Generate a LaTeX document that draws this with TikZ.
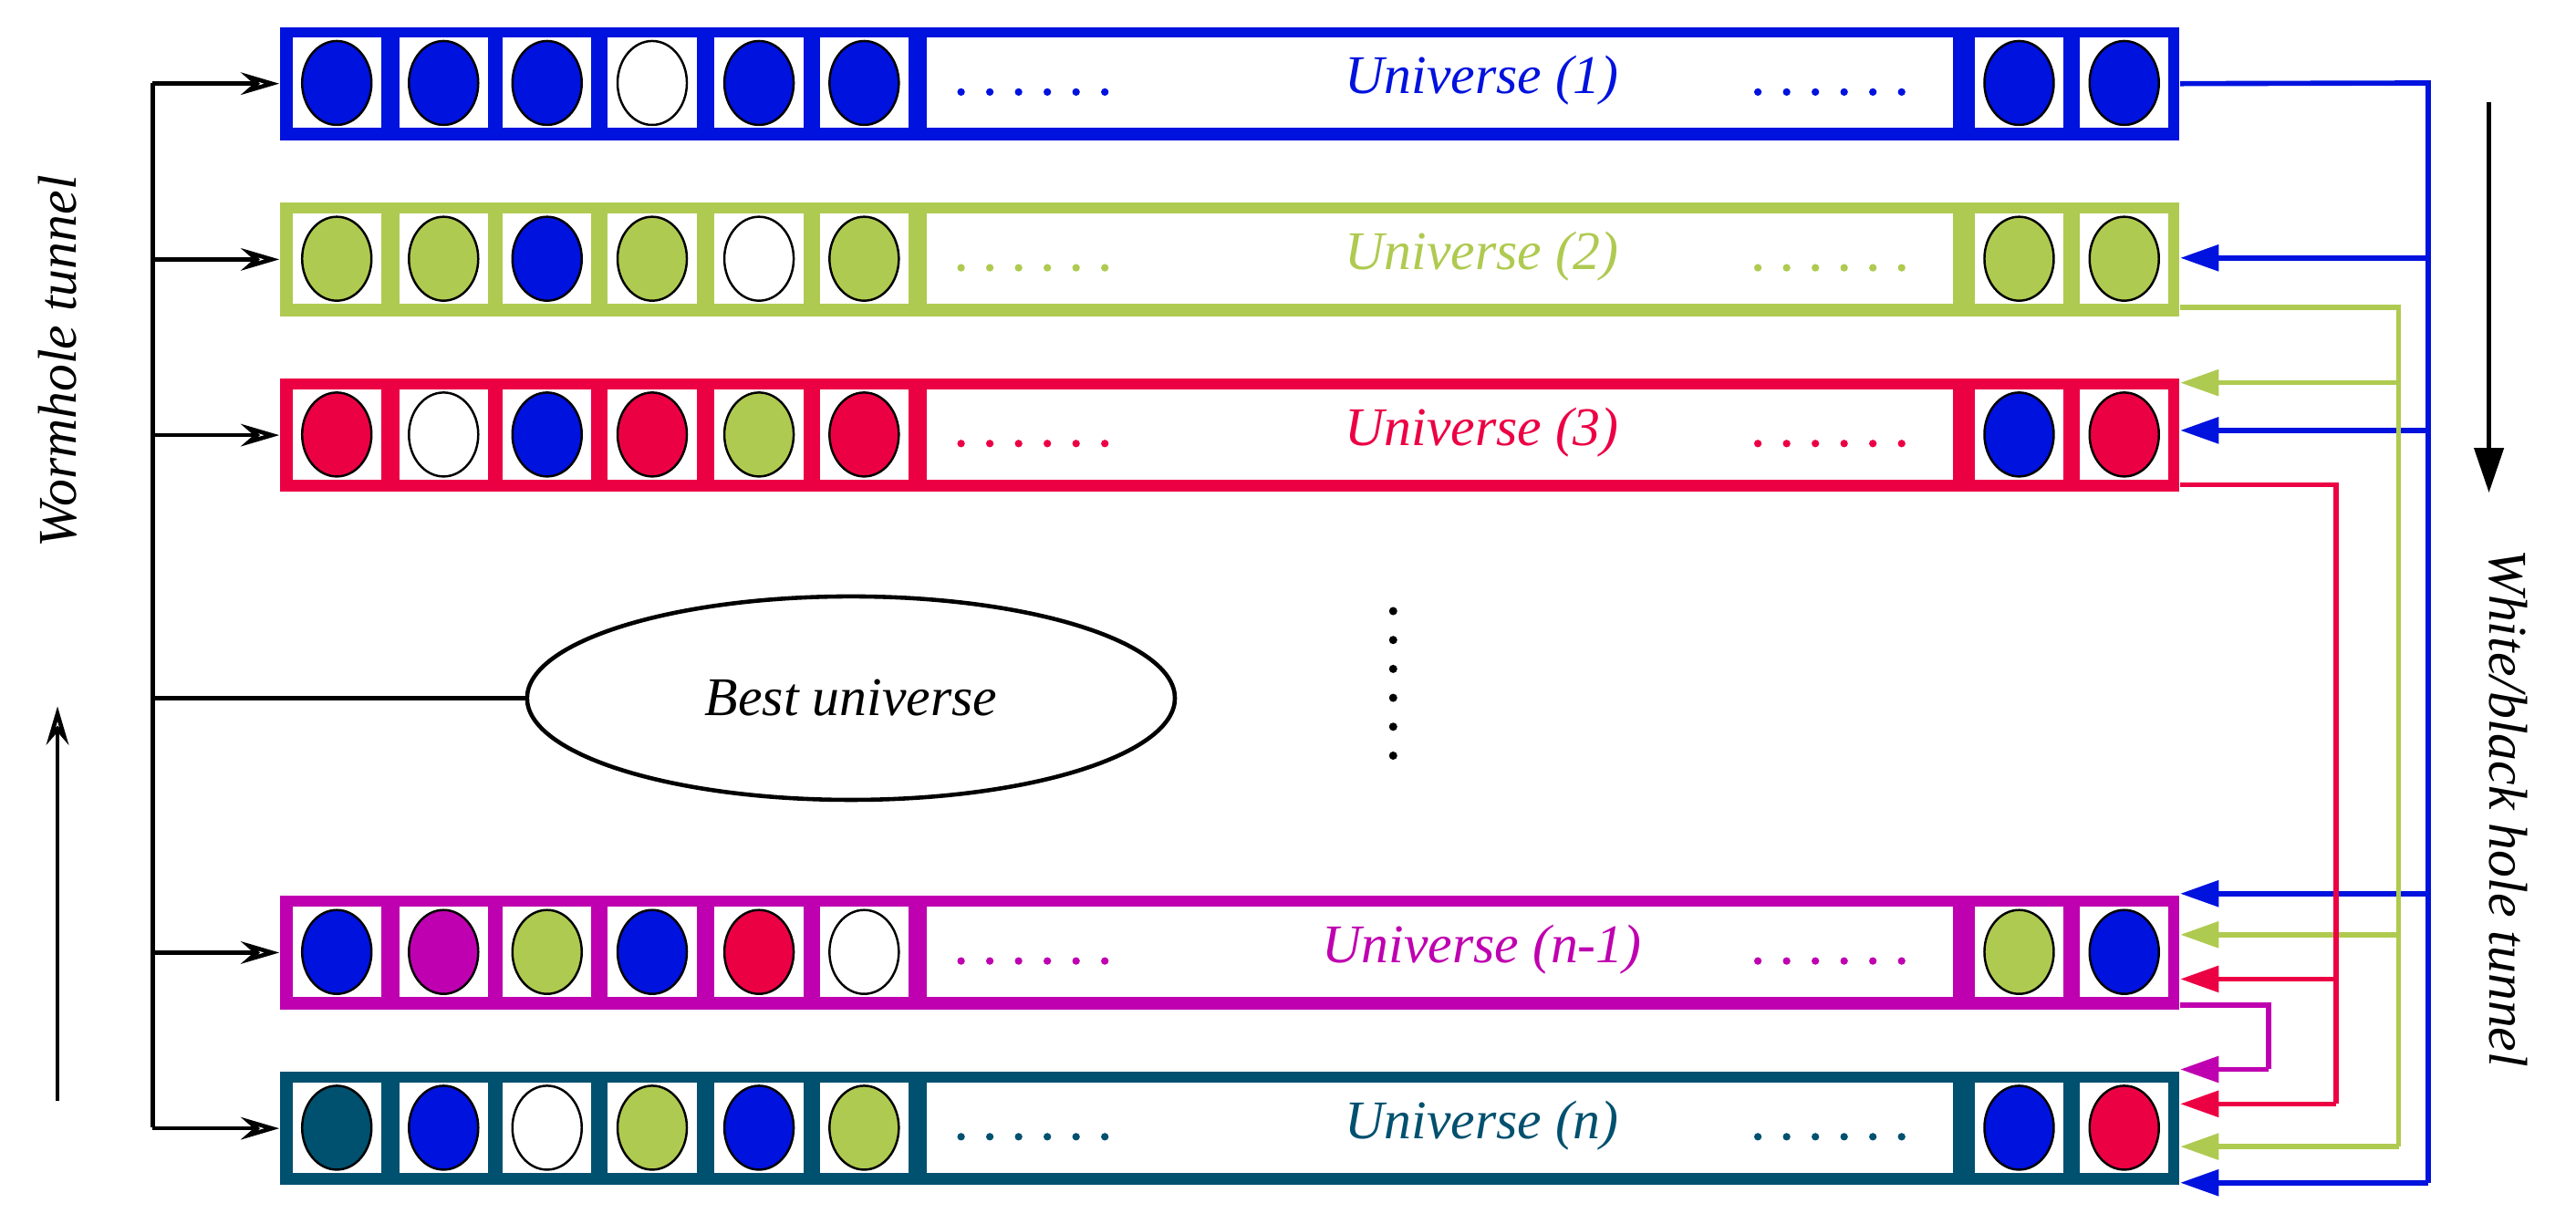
\documentclass[tikz,border=0pt]{standalone}
\usepackage{fontspec}
\setmainfont{Liberation Serif}
\usetikzlibrary{arrows.meta,shapes.geometric}
\definecolor{cB}{RGB}{0,18,222}
\definecolor{cG}{RGB}{175,202,80}
\definecolor{cR}{RGB}{236,0,68}
\definecolor{cM}{RGB}{191,0,176}
\definecolor{cT}{RGB}{0,80,111}
\tikzset{
  ball/.style={draw=black, line width=0.7pt},
  lab/.style={font=\fontsize{17}{20}\selectfont\itshape},
  cn/.style={line width=1.6pt, -{Triangle[length=12pt,width=8pt]}},
  ln/.style={line width=1.6pt},
  wa/.style={line width=1.3pt, -{Stealth[open,length=12pt,width=7pt,inset=4pt]}},
}
\newcommand\urow[5]{%
  \node[fill=#3, minimum width=20.82cm, minimum height=1.243cm, inner sep=0pt, anchor=north west] (#1) at (170,#2) {};
  \foreach \xx/\cc in {#4} {
    \fill[white] (\xx,#2+7) rectangle ++(54,55);
    \draw[ball, fill=\cc] (\xx+27,#2+34.5) ellipse [x radius=0.38cm, y radius=0.46cm];
  }
  \fill[white] (564,#2+7) rectangle (1189,#2+62);
  \node[lab, text=#3] (#1l) at (902,#2+33) {#5};
  \foreach \k in {0,...,5} {
    \fill[#3] (585+\k*17.5,#2+40) circle (2.3);
    \fill[#3] (1070+\k*17.5,#2+40) circle (2.3);
  }
}
\begin{document}
\begin{tikzpicture}[x=0.01801cm,y=-0.01801cm]
\useasboundingbox (0,0) rectangle (1568,745);
\urow{r1}{16}{cB}{178/cB,243/cB,306/cB,370/white,435/cB,499/cB,1202/cB,1266/cB}{Universe (1)}
\urow{r2}{123}{cG}{178/cG,243/cG,306/cB,370/cG,435/white,499/cG,1202/cG,1266/cG}{Universe (2)}
\urow{r3}{230}{cR}{178/cR,243/white,306/cB,370/cR,435/cG,499/cR,1202/cB,1266/cR}{Universe (3)}
\urow{r4}{545}{cM}{178/cB,243/cM,306/cG,370/cB,435/cR,499/white,1202/cG,1266/cB}{Universe (n-1)}
\urow{r5}{652}{cT}{178/cT,243/cB,306/white,370/cG,435/cB,499/cG,1202/cB,1266/cR}{Universe (n)}

% left wormhole side
\coordinate (lt) at (93,50.5);
\coordinate (lb) at (93,686);
\draw[line width=1.3pt] (lt) -- (lb);
\foreach \r in {r1,r2,r3,r4,r5} \draw[wa] (lt |- \r.west) -- (\r.west);
\node[draw, line width=1.3pt, ellipse, minimum width=7.1cm, minimum height=2.23cm, lab] (best) at (518,425) {Best universe};
\draw[line width=1.3pt] (lt |- best.west) -- (best.west);
\coordinate (wa1) at (35,670); \coordinate (wa2) at (35,430);
\draw[wa] (wa1) -- (wa2);
\node[lab, rotate=90] (wt) at (35,220) {Wormhole tunnel};

% right side
\coordinate (da1) at (1515,62); \coordinate (da2) at (1515,300);
\draw[line width=1.6pt, -{Triangle[length=14pt,width=9pt]}] (da1) -- (da2);
\node[lab, rotate=-90] (bt) at (1527,492) {White/black hole tunnel};
\foreach \k in {0,...,5} \fill (848,372+\k*17.6) circle (2.5);

% blue
\coordinate (b0) at (1478,50.5);
\coordinate (b5) at (1478,720);
\draw[ln, cB] (r1.east) -- (b0) -- (b5);
\foreach \yy in {157,262,544,720} {
  \coordinate (bb) at (1478,\yy);
  \draw[cn, cB] (bb) -- (bb -| r1.east);
}
% green
\coordinate (g0) at (1460,187);
\coordinate (g1) at (1460,698);
\draw[ln, cG] (g0 -| r2.east) -- (g0) -- (g1);
\foreach \yy in {233,569,698} {
  \coordinate (gg) at (1460,\yy);
  \draw[cn, cG] (gg) -- (gg -| r1.east);
}
% red
\coordinate (q0) at (1422,295);
\coordinate (q1) at (1422,672);
\draw[ln, cR] (q0 -| r3.east) -- (q0) -- (q1);
\foreach \yy in {596,672} {
  \coordinate (qq) at (1422,\yy);
  \draw[cn, cR] (qq) -- (qq -| r1.east);
}
% magenta
\coordinate (m0) at (1381,612);
\coordinate (m1) at (1381,651);
\draw[ln, cM] (m0 -| r4.east) -- (m0) -- (m1);
\draw[cn, cM] (m1) -- (m1 -| r5.east);
\end{tikzpicture}
\end{document}
